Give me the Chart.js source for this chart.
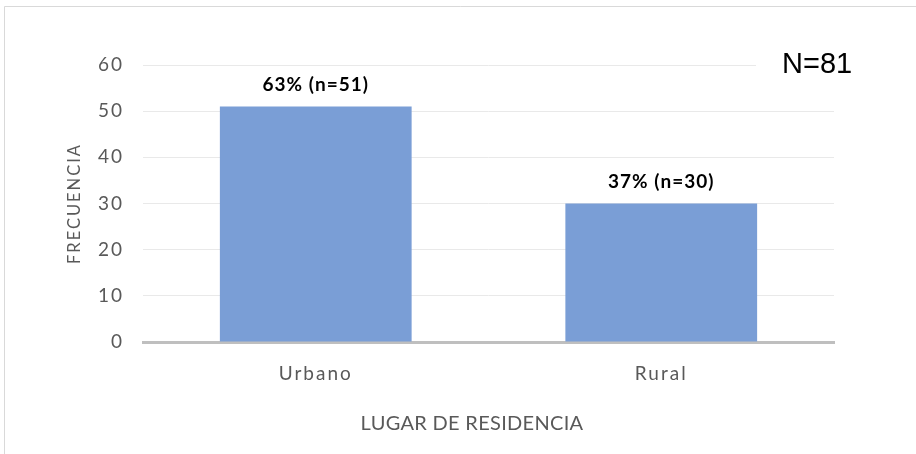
<!DOCTYPE html>
<html>
<head>
<meta charset="utf-8">
<script src="https://cdn.jsdelivr.net/npm/chart.js@4/dist/chart.umd.min.js"></script>
<style>
html,body{margin:0;padding:0;background:#fff;}
#wrap{position:relative;width:916px;height:454px;}
</style>
</head>
<body>
<div id="wrap"><canvas id="c" width="916" height="454"></canvas></div>
<script>
const categories = ["Urbano", "Rural"];
const frequencies = [51, 30];
const totalN = 81;
const percentLabels = ["63%", "37%"];
const yTicks = [0, 10, 20, 30, 40, 50, 60];
const xTitle = "LUGAR DE RESIDENCIA";
const yTitle = "FRECUENCIA";
const noteText = "N=" + totalN;

const FONT = "Lato, 'Open Sans', sans-serif";

const decor = {
  id: 'decor',
  beforeDraw(chart) {
    const ctx = chart.ctx;
    ctx.save();
    ctx.fillStyle = '#fff';
    ctx.fillRect(0, 0, chart.width, chart.height);
    ctx.strokeStyle = '#d9d9d9';
    ctx.lineWidth = 1;
    ctx.beginPath();
    ctx.moveTo(4.5, chart.height);
    ctx.lineTo(4.5, 6.5);
    ctx.lineTo(chart.width, 6.5);
    ctx.stroke();
    ctx.restore();
    ctx.letterSpacing = '2px';
  },
  afterDatasetsDraw(chart) {
    const ctx = chart.ctx;
    const meta = chart.getDatasetMeta(0);
    ctx.save();
    ctx.letterSpacing = '1px';
    ctx.font = "bold 19px " + FONT;
    ctx.fillStyle = '#000';
    ctx.textAlign = 'center';
    ctx.textBaseline = 'middle';
    meta.data.forEach((bar, i) => {
      ctx.fillText(percentLabels[i] + " (n=" + frequencies[i] + ")", bar.x, bar.y - 22);
    });
    // x axis title, centred as in the reference
    ctx.letterSpacing = '0.3px';
    ctx.font = "20px " + FONT;
    ctx.fillStyle = '#595959';
    ctx.fillText(xTitle, 472, 424);
    // N=81 note with white background
    ctx.letterSpacing = '0px';
    ctx.fillStyle = '#fff';
    ctx.fillRect(756, 38, 110, 48);
    ctx.font = "29px 'Liberation Sans', Arial, sans-serif";
    ctx.fillStyle = '#000';
    ctx.textAlign = 'left';
    ctx.textBaseline = 'alphabetic';
    ctx.fillText(noteText, 782, 73);
    ctx.restore();
  },
  afterDraw(chart) {
    chart.ctx.letterSpacing = '0px';
  }
};

new Chart(document.getElementById('c'), {
  type: 'bar',
  data: {
    labels: categories,
    datasets: [{
      data: frequencies,
      backgroundColor: 'rgb(122,158,214)',
      borderWidth: 0,
      categoryPercentage: 0.555,
      barPercentage: 1.0
    }]
  },
  options: {
    responsive: false,
    animation: false,
    devicePixelRatio: 1,
    layout: { padding: { left: 0, right: 82, top: 65, bottom: 0 } },
    plugins: { legend: { display: false }, tooltip: { enabled: false } },
    scales: {
      x: {
        grid: { display: false, drawTicks: false },
        border: { display: true, color: '#bfbfbf', width: 3 },
        ticks: { color: '#595959', font: { family: FONT, size: 19 }, padding: 20 },
        title: { display: false, text: xTitle },
        afterFit(axis) { axis.height = 112; }
      },
      y: {
        min: 0, max: 60,
        afterBuildTicks(axis) { axis.ticks = yTicks.map(v => ({ value: v })); },
        grid: { color: '#e9e9e9', lineWidth: 1, drawTicks: false },
        border: { display: false },
        ticks: { color: '#595959', font: { family: FONT, size: 19 }, padding: 19 },
        title: { display: true, text: yTitle, color: '#595959', font: { family: FONT, size: 16.5 }, padding: { top: 65, bottom: 0 } },
        afterFit(axis) { axis.width = 143; }
      }
    }
  },
  plugins: [decor]
});
</script>
</body>
</html>
